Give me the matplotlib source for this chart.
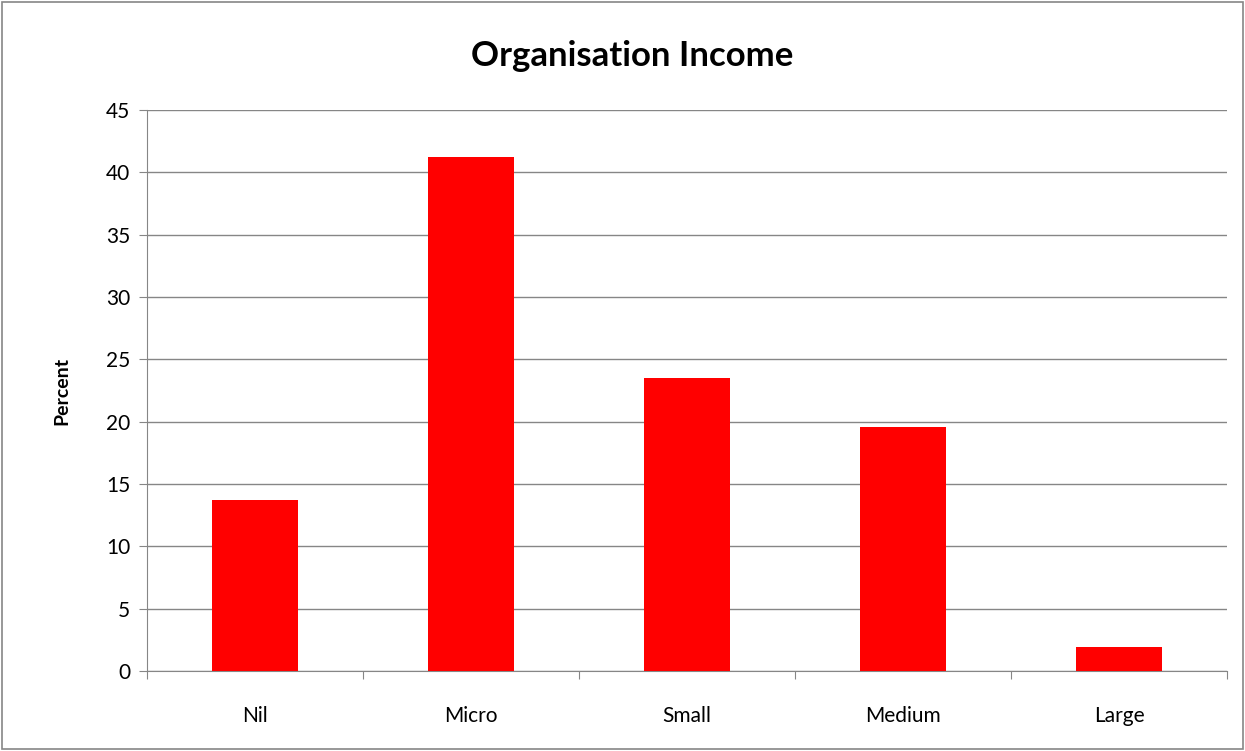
import numpy as np
import matplotlib.pyplot as plt
from matplotlib.patches import Rectangle

categories = ['Nil', 'Micro', 'Small', 'Medium', 'Large']
percent = [13.7, 41.2, 23.5, 19.6, 1.9]
y_ticks = [0, 5, 10, 15, 20, 25, 30, 35, 40, 45]

plt.rcParams['font.family'] = ['Lato', 'DejaVu Sans']

fig = plt.figure(figsize=(12.45, 7.51), dpi=100)
fig.patches.append(Rectangle((0.002, 0.002), 0.996, 0.996, transform=fig.transFigure,
                             fill=False, edgecolor='#868686', linewidth=1.2))
ax = fig.add_axes([0.118, 0.1065, 0.8675, 0.747])

x = np.arange(len(categories))
ax.bar(x, percent, width=0.4, color='#ff0000', zorder=3)

ax.set_xlim(-0.5, len(categories) - 0.5)
ax.set_ylim(0, 45)
ax.set_yticks(y_ticks)
ax.yaxis.grid(True, color='#868686', linewidth=1, zorder=0)

ax.set_xticks(np.arange(-0.5, len(categories), 1.0))
ax.set_xticklabels([])
ax.set_xticks(x, minor=True)
ax.set_xticklabels(categories, minor=True)
ax.tick_params(axis='x', which='minor', length=0, pad=25, labelsize=15)
ax.tick_params(axis='x', which='major', length=6, color='#868686')
ax.tick_params(axis='y', length=6, color='#868686', labelsize=15, pad=6)

for s in ['top', 'right']:
    ax.spines[s].set_visible(False)
for s in ['left', 'bottom']:
    ax.spines[s].set_color('#868686')

ax.set_ylabel('Percent', fontsize=14, fontweight='bold', labelpad=26)
fig.text(0.508, 0.925, 'Organisation Income', ha='center', va='center',
         fontsize=25, fontweight='bold')

fig.savefig('out.png', dpi=100)
